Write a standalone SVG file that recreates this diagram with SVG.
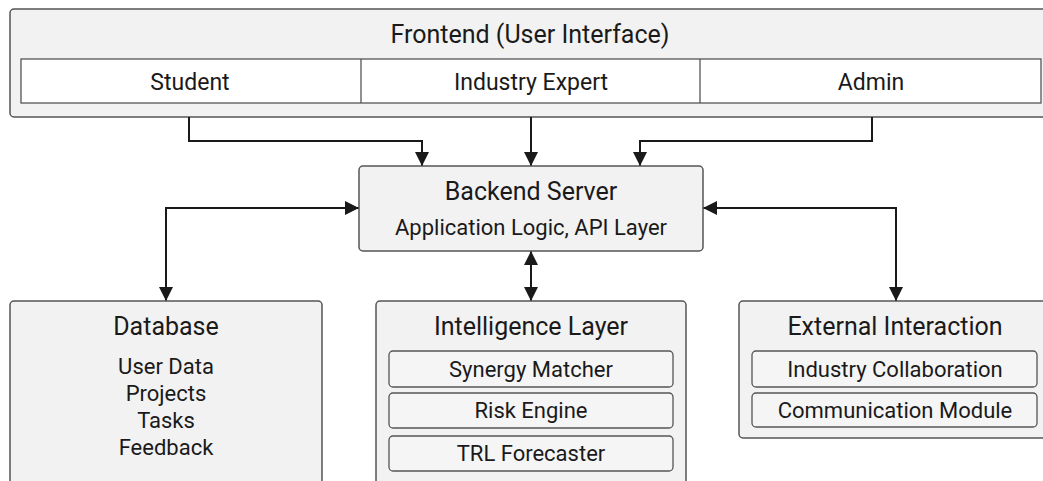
<svg xmlns="http://www.w3.org/2000/svg" width="1043" height="481" viewBox="0 0 1043 481">
<defs>
<marker id="ah" viewBox="0 0 14 14" refX="14" refY="7" markerWidth="14" markerHeight="14" markerUnits="userSpaceOnUse" orient="auto-start-reverse">
<path d="M0,0 L14,7 L0,14 z" fill="#1a1a1a"/>
</marker>
<style>
.box{fill:#f2f2f2;stroke:#555;stroke-width:1.5}
.sub{fill:#f5f5f5;stroke:#555;stroke-width:1.3}
.cell{fill:#fff;stroke:#555;stroke-width:1.3}
text{font-family:Roboto,"Liberation Sans",sans-serif;fill:#1a1a1a;text-anchor:middle}
.t{font-size:25px}
.r{font-size:23px}
.s{font-size:22px}
.c{fill:none;stroke:#1a1a1a;stroke-width:2}
</style>
</defs>
<rect width="1043" height="481" fill="#fff"/>
<g id="frontend">
<rect class="box" x="10" y="9" width="1040" height="108" rx="4"/>
<text class="t" x="530" y="43">Frontend (User Interface)</text>
<rect class="cell" x="21" y="59" width="1020" height="44"/>
<line x1="361" y1="59" x2="361" y2="103" stroke="#555" stroke-width="1.3"/>
<line x1="700" y1="59" x2="700" y2="103" stroke="#555" stroke-width="1.3"/>
</g>
<g id="student"><text class="r" x="190" y="90">Student</text></g>
<g id="industry-expert"><text class="r" x="531" y="90">Industry Expert</text></g>
<g id="admin"><text class="r" x="871" y="90">Admin</text></g>
<g id="connectors">
<path class="c" d="M189,117 V141 H422 V166" marker-end="url(#ah)"/>
<path class="c" d="M531,117 V166" marker-end="url(#ah)"/>
<path class="c" d="M872,117 V141 H640 V166" marker-end="url(#ah)"/>
<path class="c" d="M359,208 H166 V301" marker-start="url(#ah)" marker-end="url(#ah)"/>
<path class="c" d="M531,251 V301" marker-start="url(#ah)" marker-end="url(#ah)"/>
<path class="c" d="M703,208 H896 V301" marker-start="url(#ah)" marker-end="url(#ah)"/>
</g>
<g id="backend">
<rect class="box" x="359" y="166" width="344" height="85" rx="4"/>
<text class="t" x="531" y="200">Backend Server</text>
<text class="s" x="531" y="235">Application Logic, API Layer</text>
</g>
<g id="database">
<rect class="box" x="10" y="301" width="312" height="200" rx="4"/>
<text class="t" x="166" y="335">Database</text>
<text class="s" x="166" y="374">User Data</text>
<text class="s" x="166" y="401">Projects</text>
<text class="s" x="166" y="428">Tasks</text>
<text class="s" x="166" y="455">Feedback</text>
</g>
<g id="intelligence-layer">
<rect class="box" x="376" y="301" width="310" height="200" rx="4"/>
<text class="t" x="531" y="335">Intelligence Layer</text>
<rect class="sub" x="389" y="351" width="284" height="36" rx="4"/>
<text class="s" x="531" y="377">Synergy Matcher</text>
<rect class="sub" x="389" y="393" width="284" height="35" rx="4"/>
<text class="s" x="531" y="418">Risk Engine</text>
<rect class="sub" x="389" y="436" width="284" height="35" rx="4"/>
<text class="s" x="531" y="461">TRL Forecaster</text>
</g>
<g id="external-interaction">
<rect class="box" x="739" y="301" width="310" height="137" rx="4"/>
<text class="t" x="895" y="335">External Interaction</text>
<rect class="sub" x="752" y="351" width="285" height="36" rx="4"/>
<text class="s" x="895" y="377">Industry Collaboration</text>
<rect class="sub" x="752" y="393" width="285" height="34" rx="4"/>
<text class="s" x="895" y="418">Communication Module</text>
</g>
</svg>
